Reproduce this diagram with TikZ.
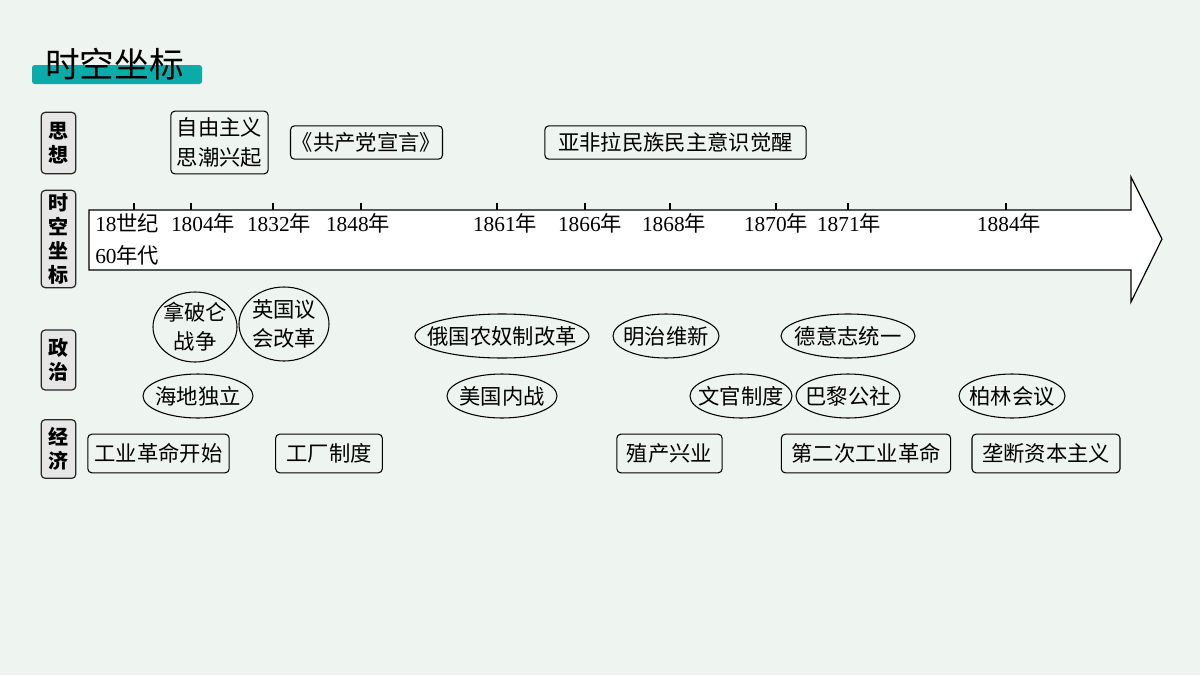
\documentclass[tikz,border=0pt]{standalone}
\usepackage{fontspec}
\setmainfont{Noto Sans CJK SC}
\newfontfamily\numfont{Liberation Serif}
\usetikzlibrary{shapes.geometric}
\definecolor{bgc}{HTML}{EEF4F0}
\definecolor{teal}{HTML}{0AABA8}
\definecolor{lab}{HTML}{E6E6E6}
\begin{document}
\begin{tikzpicture}[x=0.75pt,y=-0.75pt,
  sidelab/.style={draw=black!85,fill=lab,rounded corners=3pt,line width=0.9pt,minimum width=26pt,inner sep=1pt,align=center,font=\fontsize{15}{18}\selectfont\bfseries},
  rbox/.style={draw,rounded corners=3pt,line width=0.8pt,inner sep=1pt,font=\fontsize{16}{22}\selectfont,align=center},
  ell/.style={inner sep=0pt,font=\fontsize{16}{22}\selectfont,align=center},
  eline/.style={line width=0.8pt},
  yr/.style={font=\fontsize{16}{18}\selectfont,inner sep=0pt}]
\fill[bgc] (0,0) rectangle (1200,675);
\useasboundingbox (0,0) rectangle (1200,675);
% title
\fill[teal,rounded corners=2pt] (32,65) rectangle (202,84);
\node[anchor=west,inner sep=0pt,font=\fontsize{26}{28}\selectfont] (title) at (45,64) {时空坐标};
% side labels
\node[sidelab,minimum height=46pt] (s1) at (58.5,143) {思\\想};
\node[sidelab,minimum height=73pt] (s2) at (58.5,239) {时\\空\\坐\\标};
\node[sidelab,minimum height=45pt] (s3) at (58.5,360) {政\\治};
\node[sidelab,minimum height=44pt] (s4) at (58.5,449) {经\\济};
% arrow
\draw[line width=0.9pt,fill=white] (89,210) -- (1131,210) -- (1131,177) -- (1162,239) -- (1131,302) -- (1131,270) -- (89,270) -- cycle;
\foreach \x in {134,191,273,361,497,585,670,776,848,1006}{\draw[line width=0.8pt] (\x,210) -- (\x,203);}
\node[yr,anchor=west] (y0) at (95,223) {{\numfont 18}世纪};
\node[yr,anchor=west] (y0b) at (95,255) {{\numfont 60}年代};
\foreach \x/\t in {203/1804,279/1832,358/1848,505/1861,590/1866,674/1868,776/1870,849/1871,1009/1884}{\node[yr] at (\x,223) {{\numfont\t}年};}
% thought
\node[rbox,minimum width=73pt,minimum height=47pt] (t1) at (219.5,142.5) {自由主义\\思潮兴起};
\node[rbox,minimum width=113pt,minimum height=25pt] (t2) at (366.5,142.5) {《共产党宣言》};
\node[rbox,minimum width=196pt,minimum height=25pt] (t3) at (675.5,142.5) {亚非拉民族民主意识觉醒};
% politics
\node[ell] (p1) at (195,327) {拿破仑\\战争};
\node[ell] (p2) at (284,324) {英国议\\会改革};
\node[ell] (p3) at (198,396) {海地独立};
\node[ell] (p4) at (502,336) {俄国农奴制改革};
\node[ell] (p5) at (502,396) {美国内战};
\node[ell] (p6) at (666,336) {明治维新};
\node[ell] (p7) at (741,396) {文官制度};
\node[ell] (p8) at (848,396) {巴黎公社};
\node[ell] (p9) at (848,336) {德意志统一};
\node[ell] (p10) at (1012,396) {柏林会议};
\foreach \n/\a/\b in {p1/42/35,p2/45/37,p3/55/22,p4/87/22,p5/55/22,p6/53/22,p7/51/22,p8/52/22,p9/67/22,p10/53/22}{
  \draw[eline] (\n.center) ellipse [x radius=\a*0.75pt, y radius=\b*0.75pt];}
% economy
\node[rbox,minimum width=106pt,minimum height=29pt] (e1) at (158.5,453.5) {工业革命开始};
\node[rbox,minimum width=80pt,minimum height=29pt] (e2) at (329,453.5) {工厂制度};
\node[rbox,minimum width=79pt,minimum height=29pt] (e3) at (669.5,453.5) {殖产兴业};
\node[rbox,minimum width=127pt,minimum height=29pt] (e4) at (866,453.5) {第二次工业革命};
\node[rbox,minimum width=111pt,minimum height=29pt] (e5) at (1046,453.5) {垄断资本主义};
\end{tikzpicture}
\end{document}
